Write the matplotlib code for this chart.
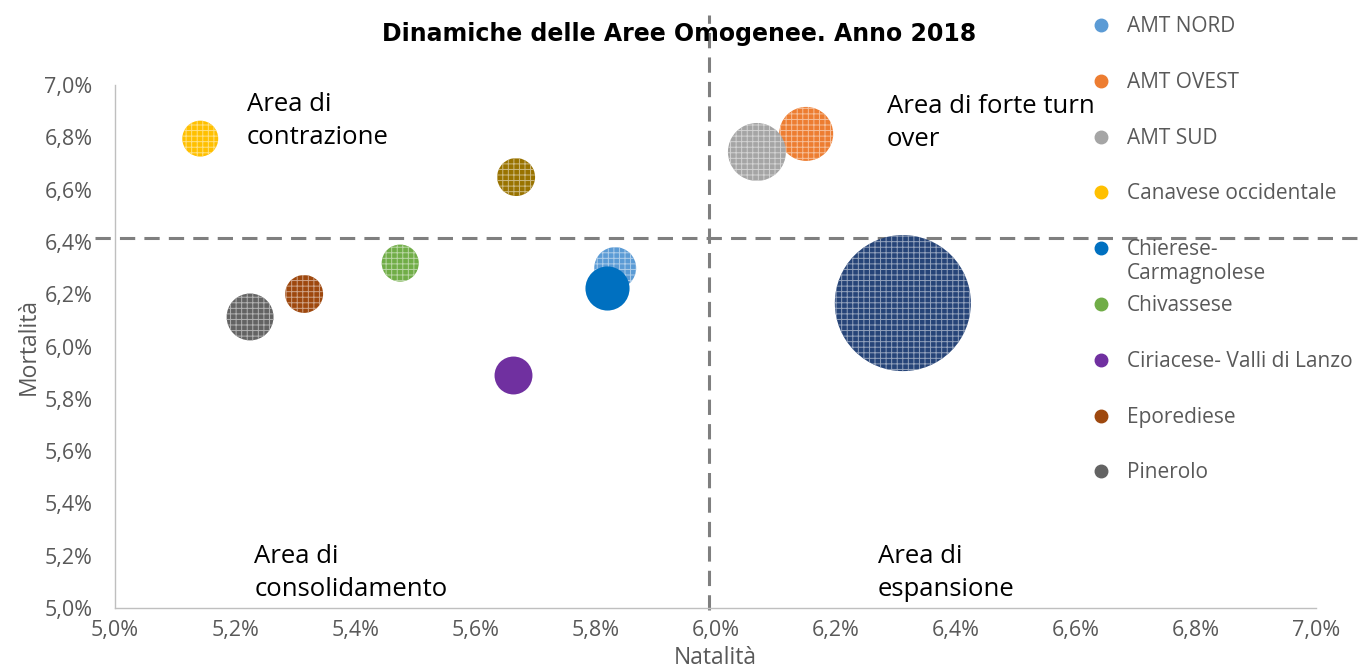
import matplotlib
matplotlib.use("Agg")
import matplotlib.pyplot as plt
from matplotlib.ticker import FuncFormatter
from matplotlib.colors import to_rgb

# dati (valori in %)
aree = ["AMT NORD", "AMT OVEST", "AMT SUD", "Canavese occidentale",
        "Chierese-\nCarmagnolese", "Chivassese", "Ciriacese- Valli di Lanzo",
        "Eporediese", "Pinerolo", "Valli di Susa e Sangone", "Torino"]
natalita = [5.833, 6.151, 6.069, 5.142, 5.819, 5.475, 5.663, 5.315, 5.225, 5.668, 6.312]
mortalita = [6.300, 6.813, 6.744, 6.795, 6.224, 6.319, 5.891, 6.201, 6.113, 6.648, 6.166]
abitanti = [83, 138, 159, 61, 92, 65, 68, 68, 104, 68, 875]  # migliaia (stima)
colori = ["#5B9BD5", "#ED7D31", "#A5A5A5", "#FFC000", "#0070C0", "#70AD47",
          "#7030A0", "#9E480E", "#636363", "#997300", "#264478"]
tratteggio = [True, True, True, True, False, True, False, True, True, True, True]
in_legenda = 9  # la legenda di Excel mostra solo le prime 9 voci

media_natalita = 5.99
media_mortalita = 6.415

plt.rcParams['font.family'] = ['Open Sans', 'DejaVu Sans']
plt.rcParams['hatch.linewidth'] = 0.7

fig = plt.figure(figsize=(13.67, 6.71), dpi=100)
ax = fig.add_axes([0.0841, 0.0939, 0.8786, 0.7794])

r_max = 68 * 0.72  # raggio in punti della bolla piu' grande
k = (2 * r_max) ** 2 / max(abitanti)


def schiarisci(c, f=0.5):
    r, g, b = to_rgb(c)
    return (r + (1 - r) * f, g + (1 - g) * f, b + (1 - b) * f)


for i in range(len(aree)):
    if tratteggio[i]:
        ax.scatter(natalita[i], mortalita[i], s=abitanti[i] * k, color=colori[i],
                   edgecolors=[schiarisci(colori[i])], linewidths=0, hatch='+++',
                   zorder=3)
    else:
        ax.scatter(natalita[i], mortalita[i], s=abitanti[i] * k, color=colori[i],
                   linewidths=0, zorder=3)

ax.set_xlim(5.0, 7.0)
ax.set_ylim(5.0, 7.0)
ticks = [5.0, 5.2, 5.4, 5.6, 5.8, 6.0, 6.2, 6.4, 6.6, 6.8, 7.0]
ax.set_xticks(ticks)
ax.set_yticks(ticks)
fmt = FuncFormatter(lambda v, p: f"{v:.1f}%".replace(".", ","))
ax.xaxis.set_major_formatter(fmt)
ax.yaxis.set_major_formatter(fmt)
ax.tick_params(length=0, labelsize=15.5, labelcolor="#595959")
ax.tick_params(axis='x', pad=9)
ax.tick_params(axis='y', pad=16)
for s in ["top", "right"]:
    ax.spines[s].set_visible(False)
for s in ["left", "bottom"]:
    ax.spines[s].set_color("#BFBFBF")
    ax.spines[s].set_linewidth(1)

ax.set_xlabel("Natalità", fontsize=16.5, color="#595959", labelpad=3)
ax.set_ylabel("Mortalità", fontsize=16.5, color="#595959", labelpad=3)

# linee medie tratteggiate
ax.axhline(media_mortalita, xmin=-0.017, xmax=1.037, color="#7F7F7F", lw=2.2,
           dashes=(5, 3), clip_on=False, zorder=2)
ax.axvline(media_natalita, ymin=-0.004, ymax=1.134, color="#7F7F7F", lw=2.2,
           dashes=(5, 3), clip_on=False, zorder=2)

# etichette dei quadranti
kw = dict(fontsize=18.5, color="black", va="top", ha="left", linespacing=1.42, zorder=4)
ax.text(5.22, 6.975, "Area di\ncontrazione", **kw)
ax.text(6.285, 6.965, "Area di forte turn\nover", **kw)
ax.text(5.232, 5.245, "Area di\nconsolidamento", **kw)
ax.text(6.27, 5.245, "Area di\nespansione", **kw)

fig.text(0.497, 0.950, "Dinamiche delle Aree Omogenee. Anno 2018",
         ha="center", va="center", fontsize=17, fontweight="bold",
         family="DejaVu Sans", color="black")

# legenda costruita a mano (in Excel la voce su due righe non sposta le altre)
for i in range(in_legenda):
    yc = 1 - (25 + i * 55.8) / 671
    fig.add_artist(plt.Line2D([1101 / 1367], [yc], marker="o", markersize=9,
                              color=colori[i], linestyle="none",
                              transform=fig.transFigure))
    fig.text(1127 / 1367, yc + 9 / 671, aree[i], ha="left", va="top",
             fontsize=15, color="#595959", linespacing=1.2)

fig.savefig("out.png", dpi=100)
